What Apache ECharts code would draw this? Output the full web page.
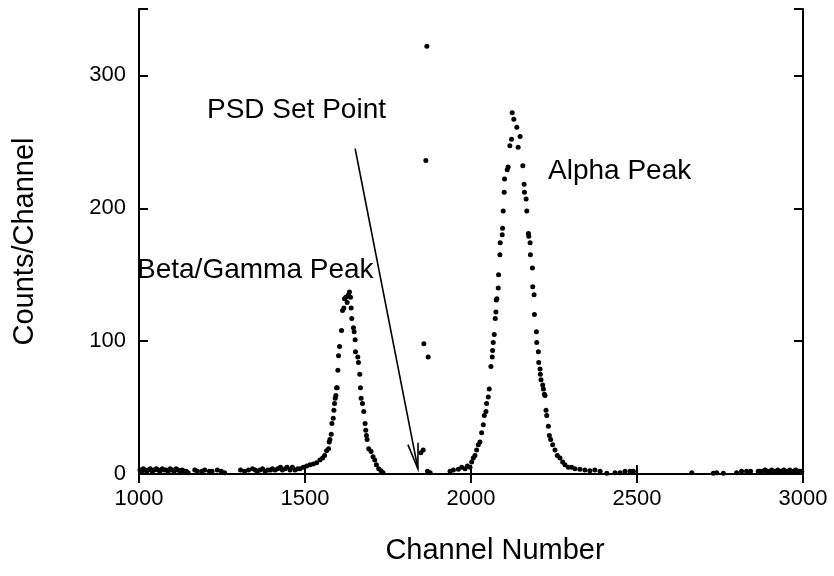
<!DOCTYPE html>
<html>
<head>
<meta charset="utf-8">
<script src="https://cdn.jsdelivr.net/npm/echarts@6/dist/echarts.min.js"></script>
<style>
  html, body { margin: 0; padding: 0; background: #fff; }
  #chart { width: 834px; height: 576px; }
</style>
</head>
<body>
<div id="chart"></div>
<script>
// [channel, counts] pairs
var baseline = [
  [1003, 3], [1008, 2], [1013, 4], [1018, 3], [1023, 2], [1028, 3], [1034, 4], [1040, 2],
  [1046, 3], [1052, 4], [1058, 3], [1063, 2], [1070, 4], [1076, 3], [1082, 3], [1088, 2],
  [1094, 4], [1100, 3], [1106, 2], [1112, 4], [1118, 3], [1124, 2], [1130, 3], [1136, 2],
  [1142, 2], [1148, 1], [1168, 3], [1176, 2], [1190, 2], [1198, 3], [1212, 2], [1220, 2],
  [1236, 3], [1248, 2], [1258, 1], [1306, 3], [1318, 2], [1330, 3], [1342, 4], [1350, 3],
  [1356, 2], [1364, 3], [1372, 4], [1380, 2], [1388, 3], [1396, 3], [1402, 4], [1410, 3],
  [1418, 4], [1426, 5], [1432, 3], [1440, 4], [1446, 5]
];
var betaPeak = [
  [1455, 3], [1462, 5], [1470, 3], [1478, 4], [1485, 4], [1495, 5], [1505, 6], [1515, 7],
  [1525, 7.5], [1535, 8.5], [1545, 10.5], [1553, 12], [1559, 14], [1565, 17.5], [1571, 19],
  [1573, 24], [1575, 26], [1579, 30], [1581, 38], [1585, 42], [1587, 48], [1589, 53],
  [1591, 57], [1593, 59], [1595, 65], [1597, 65], [1599, 78], [1601, 89], [1604, 96],
  [1610, 108], [1613, 123], [1617, 125], [1619, 132], [1623, 133], [1627, 129], [1631, 135],
  [1634, 137], [1637, 133], [1639, 125], [1641, 117], [1646, 110], [1648, 107], [1651, 101],
  [1652, 92], [1659, 88], [1661, 84], [1665, 75], [1667, 65], [1669, 57], [1673, 53],
  [1677, 47], [1681, 38], [1683, 33], [1685, 29], [1687, 26], [1692, 19], [1699, 17],
  [1705, 13], [1710, 10.5], [1715, 7], [1722, 4], [1729, 2.5], [1735, 1]
];
var psdPoints = [
  [1849, 16], [1856, 18], [1858, 98], [1864, 236], [1867, 322], [1869, 2], [1871, 88]
];
var alphaPeak = [
  [1877, 1], [1937, 2], [1947, 3], [1962, 3.5], [1972, 5], [1982, 4], [1989, 6], [1997, 5],
  [2002, 9], [2007, 12], [2012, 14], [2017, 18], [2022, 22], [2027, 24], [2032, 31],
  [2037, 37], [2040, 44], [2045, 47], [2047, 53], [2052, 58], [2055, 64], [2060, 81],
  [2064, 88], [2065, 93], [2067, 99], [2070, 105], [2073, 117], [2075, 122], [2076, 131],
  [2078, 132], [2082, 140], [2083, 150], [2087, 165], [2088, 174], [2094, 180], [2095, 185],
  [2097, 198], [2100, 212], [2101, 222], [2109, 229], [2112, 231], [2117, 247], [2122, 252],
  [2124, 272], [2129, 267], [2138, 261], [2142, 246], [2148, 254], [2156, 232], [2160, 218],
  [2161, 212], [2166, 207], [2168, 198], [2173, 181], [2174, 179], [2178, 174], [2179, 165],
  [2185, 155], [2186, 141], [2190, 135], [2191, 120], [2197, 107], [2198, 99], [2203, 92],
  [2204, 84], [2208, 79], [2209, 75], [2211, 71], [2216, 67], [2218, 64], [2221, 60],
  [2223, 59], [2226, 48], [2228, 44], [2233, 36], [2236, 29], [2240, 26], [2246, 22],
  [2253, 18], [2260, 14], [2268, 12], [2276, 9], [2283, 7], [2293, 5], [2303, 5], [2313, 4],
  [2328, 3.5], [2343, 3], [2358, 2.5], [2373, 3], [2389, 2], [2409, 0.5], [2434, 1],
  [2449, 1], [2464, 2], [2479, 2], [2489, 2]
];
var tail = [
  [2665, 1], [2730, 0.5], [2740, 1], [2760, 0.5], [2800, 1], [2815, 2], [2830, 2], [2842, 2],
  [2865, 2], [2870, 2], [2878, 2], [2886, 3], [2892, 2], [2900, 2], [2906, 3], [2912, 2],
  [2918, 2], [2924, 3], [2930, 2], [2936, 2], [2942, 3], [2948, 2], [2954, 2], [2960, 3],
  [2966, 2], [2972, 2], [2978, 3], [2984, 2], [2990, 2], [2996, 2]
];

// annotation arrow, from label to set point (channel, counts)
var arrowFrom = [1651, 245];
var arrowTo = [1840, 4];

var font = "'Liberation Sans', Arial, sans-serif";
var axisLineStyle = { color: "#000", width: 2 };

var chart = echarts.init(document.getElementById("chart"));

var option = {
  animation: false,
  backgroundColor: "#fff",
  textStyle: { fontFamily: font },
  grid: { left: 139, right: 31, top: 9, bottom: 102, outerBoundsMode: "none", containLabel: false },
  xAxis: [
    {
      type: "value",
      min: 1000,
      max: 3000,
      interval: 500,
      name: "Channel Number",
      nameLocation: "middle",
      nameGap: 62,
      nameTextStyle: { fontSize: 29, color: "#000", fontFamily: font, padding: [0, 0, 0, 48] },
      axisLine: { lineStyle: axisLineStyle },
      axisTick: { inside: true, length: 9, lineStyle: axisLineStyle },
      axisLabel: {
        fontSize: 22, color: "#000", margin: 14, fontFamily: font,
        formatter: function (v) { return String(v); }
      },
      splitLine: { show: false }
    },
    {
      type: "value",
      position: "top",
      min: 1000,
      max: 3000,
      interval: 500,
      axisLine: { show: true, lineStyle: axisLineStyle },
      axisTick: { inside: true, length: 9, lineStyle: axisLineStyle },
      axisLabel: { show: false },
      splitLine: { show: false }
    }
  ],
  yAxis: [
    {
      type: "value",
      min: 0,
      max: 350,
      interval: 100,
      name: "Counts/Channel",
      nameLocation: "middle",
      nameGap: 100,
      nameTextStyle: { fontSize: 29, color: "#000", fontFamily: font },
      axisLine: { show: true, lineStyle: axisLineStyle },
      axisTick: { inside: true, length: 9, lineStyle: axisLineStyle },
      axisLabel: {
        fontSize: 22, color: "#000", margin: 13, fontFamily: font,
        formatter: function (v) { return v % 100 === 0 ? String(v) : ""; }
      },
      splitLine: { show: false }
    },
    {
      type: "value",
      position: "right",
      min: 0,
      max: 350,
      interval: 100,
      axisLine: { show: true, lineStyle: axisLineStyle },
      axisTick: { inside: true, length: 9, lineStyle: axisLineStyle },
      axisLabel: { show: false },
      splitLine: { show: false }
    }
  ],
  series: [
    {
      type: "scatter",
      symbol: "circle",
      symbolSize: 5,
      itemStyle: { color: "#000", opacity: 1 },
      data: [].concat(baseline, betaPeak, psdPoints, alphaPeak, tail),
      z: 3
    }
  ],
  graphic: [
    { id: "psd", type: "text", left: 207, top: 96, style: { text: "PSD Set Point", font: "28px " + font, fill: "#000" } },
    { id: "alpha", type: "text", left: 548, top: 157, style: { text: "Alpha Peak", font: "28px " + font, fill: "#000" } },
    { id: "beta", type: "text", left: 137, top: 256, style: { text: "Beta/Gamma Peak", font: "28px " + font, fill: "#000" } }
  ]
};

chart.setOption(option);

// arrow drawn in pixel space converted from data coordinates
var p0 = chart.convertToPixel({ gridIndex: 0 }, arrowFrom);
var p1 = chart.convertToPixel({ gridIndex: 0 }, arrowTo);
var ang = Math.atan2(p1[1] - p0[1], p1[0] - p0[0]);
var headLen = 26, spread = 0.2;
var h1 = [p1[0] - headLen * Math.cos(ang - spread), p1[1] - headLen * Math.sin(ang - spread)];
var h2 = [p1[0] - headLen * Math.cos(ang + spread), p1[1] - headLen * Math.sin(ang + spread)];
chart.setOption({
  graphic: [
    { id: "arrowLine", type: "line", shape: { x1: p0[0], y1: p0[1], x2: p1[0], y2: p1[1] }, style: { stroke: "#000", lineWidth: 1.6 } },
    { id: "arrowHead", type: "polyline", shape: { points: [h1, p1, h2] }, style: { stroke: "#000", lineWidth: 1.6, fill: null } }
  ]
});
</script>
</body>
</html>
